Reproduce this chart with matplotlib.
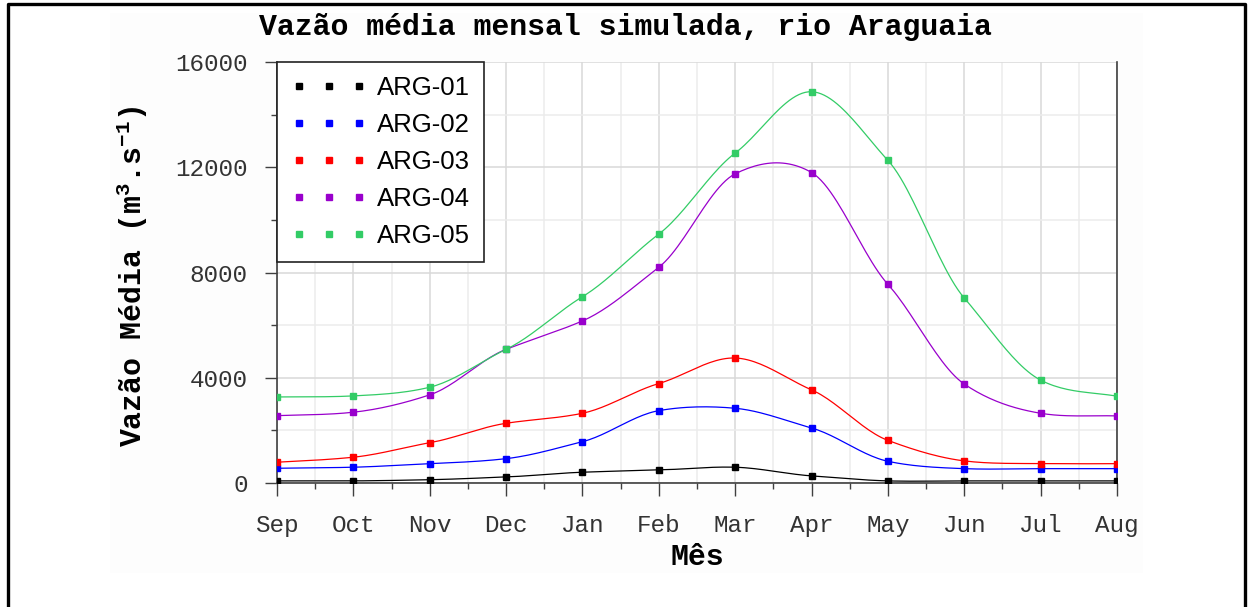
import numpy as np
import matplotlib
matplotlib.use('Agg')
import matplotlib.pyplot as plt
from matplotlib.lines import Line2D
from matplotlib.patches import Rectangle
from matplotlib.ticker import MultipleLocator

plt.rcParams['font.family'] = 'Liberation Mono'
plt.rcParams['mathtext.fontset'] = 'custom'
plt.rcParams['mathtext.rm'] = 'Liberation Mono:bold'
plt.rcParams['mathtext.it'] = 'Liberation Mono:bold'
plt.rcParams['mathtext.bf'] = 'Liberation Mono:bold'

# Data
months = ['Sep', 'Oct', 'Nov', 'Dec', 'Jan', 'Feb', 'Mar', 'Apr', 'May', 'Jun', 'Jul', 'Aug']
arg01 = [80, 80, 125, 230, 410, 495, 600, 270, 80, 80, 80, 80]
arg02 = [560, 600, 735, 925, 1570, 2750, 2840, 2090, 825, 545, 545, 545]
arg03 = [790, 980, 1530, 2270, 2650, 3780, 4750, 3540, 1620, 840, 735, 735]
arg04 = [2560, 2690, 3350, 5080, 6160, 8200, 11750, 11800, 7550, 3760, 2650, 2550]
arg05 = [3270, 3310, 3640, 5080, 7080, 9460, 12540, 14870, 12260, 7030, 3910, 3300]

series = [('ARG-01', arg01, '#000000'),
          ('ARG-02', arg02, '#0000ff'),
          ('ARG-03', arg03, '#ff0000'),
          ('ARG-04', arg04, '#9900cc'),
          ('ARG-05', arg05, '#33cc66')]


# Cardinal spline for the connecting line (markers stay on the data)
def smooth(y, steps=24, tension=0.8):
    y = np.asarray(y, dtype=float)
    n = len(y)
    m = np.zeros(n)
    m[1:-1] = tension * (y[2:] - y[:-2]) / 2
    m[0] = tension * (y[1] - y[0])
    m[-1] = tension * (y[-1] - y[-2])
    xs, ys = [], []
    for i in range(n - 1):
        t = np.linspace(0, 1, steps, endpoint=(i == n - 2))
        h00 = 2 * t**3 - 3 * t**2 + 1
        h10 = t**3 - 2 * t**2 + t
        h01 = -2 * t**3 + 3 * t**2
        h11 = t**3 - t**2
        xs.append(i + t)
        ys.append(h00 * y[i] + h10 * m[i] + h01 * y[i + 1] + h11 * m[i + 1])
    return np.concatenate(xs), np.concatenate(ys)


fig = plt.figure(figsize=(12.48, 6.07), dpi=100)

# faint off-white backdrop and the outer frame
fig.add_artist(Rectangle((110 / 1248, 1 - 573 / 607), (1143 - 110) / 1248, (573 - 13) / 607,
                         transform=fig.transFigure, facecolor='#fdfdfd', edgecolor='none', zorder=-5))
fig.add_artist(Line2D([8 / 1248, 8 / 1248, 1245 / 1248, 1245 / 1248],
                      [0, 1 - 4 / 607, 1 - 4 / 607, 0],
                      transform=fig.transFigure, color='black', linewidth=2.4))

ax = fig.add_axes([277 / 1248, 1 - 483 / 607, 840 / 1248, 421 / 607])
ax.set_facecolor('white')

x = np.arange(len(months))
for name, vals, color in series:
    sx, sy = smooth(vals)
    ax.plot(sx, sy, color=color, linewidth=0.9, zorder=3)
    ax.plot(x, vals, linestyle='none', marker='s', markersize=4.5, color=color, zorder=4)

ax.set_xlim(0, 11)
ax.set_ylim(0, 16000)
ax.set_xticks(x)
ax.set_xticklabels(months)
ax.xaxis.set_minor_locator(MultipleLocator(0.5))
ax.yaxis.set_major_locator(MultipleLocator(4000))
ax.yaxis.set_minor_locator(MultipleLocator(2000))

ax.grid(which='major', color='#d9d9d9', linewidth=1.1, zorder=0)
ax.grid(which='minor', color='#ececec', linewidth=1.1, zorder=0)
ax.set_axisbelow(True)

ax.tick_params(which='major', length=9, width=1, color='#404040', labelsize=17.5,
               labelcolor='#333333')
ax.tick_params(which='minor', length=4.5, width=1, color='#404040')
ax.tick_params(axis='y', which='major', pad=12)
ax.tick_params(axis='x', which='major', pad=13)

for side in ['left', 'bottom', 'right']:
    ax.spines[side].set_color('#404040')
    ax.spines[side].set_linewidth(1.2)
ax.spines['top'].set_visible(False)

ax.set_xlabel('Mês', fontsize=21.5, fontweight='bold')
ax.xaxis.set_label_coords(0.5, -0.143)
ax.set_ylabel(r'Vazão Média (m$^{3}$.s$^{-1}$)', fontsize=21.5, fontweight='bold')
ax.yaxis.set_label_coords(-0.151, 0.492)

fig.text(0.501, 1 - 27 / 607, 'Vazão média mensal simulada, rio Araguaia',
         fontsize=21.5, fontweight='bold', ha='center', va='center')

handles = [Line2D([], [], linestyle='none', marker='s', markersize=4.5, color=c)
           for _, _, c in series]
labels = [n for n, _, _ in series]
leg = ax.legend(handles, labels, loc='upper left', bbox_to_anchor=(0, 1), borderaxespad=0,
                numpoints=3, handlelength=2.93, handletextpad=0.4, borderpad=0.55,
                labelspacing=0.5, fancybox=False, framealpha=1, edgecolor='#222222',
                prop={'family': 'Liberation Sans', 'size': 18.5})
leg.get_frame().set_linewidth(1.2)

fig.savefig('out.png', dpi=100)
